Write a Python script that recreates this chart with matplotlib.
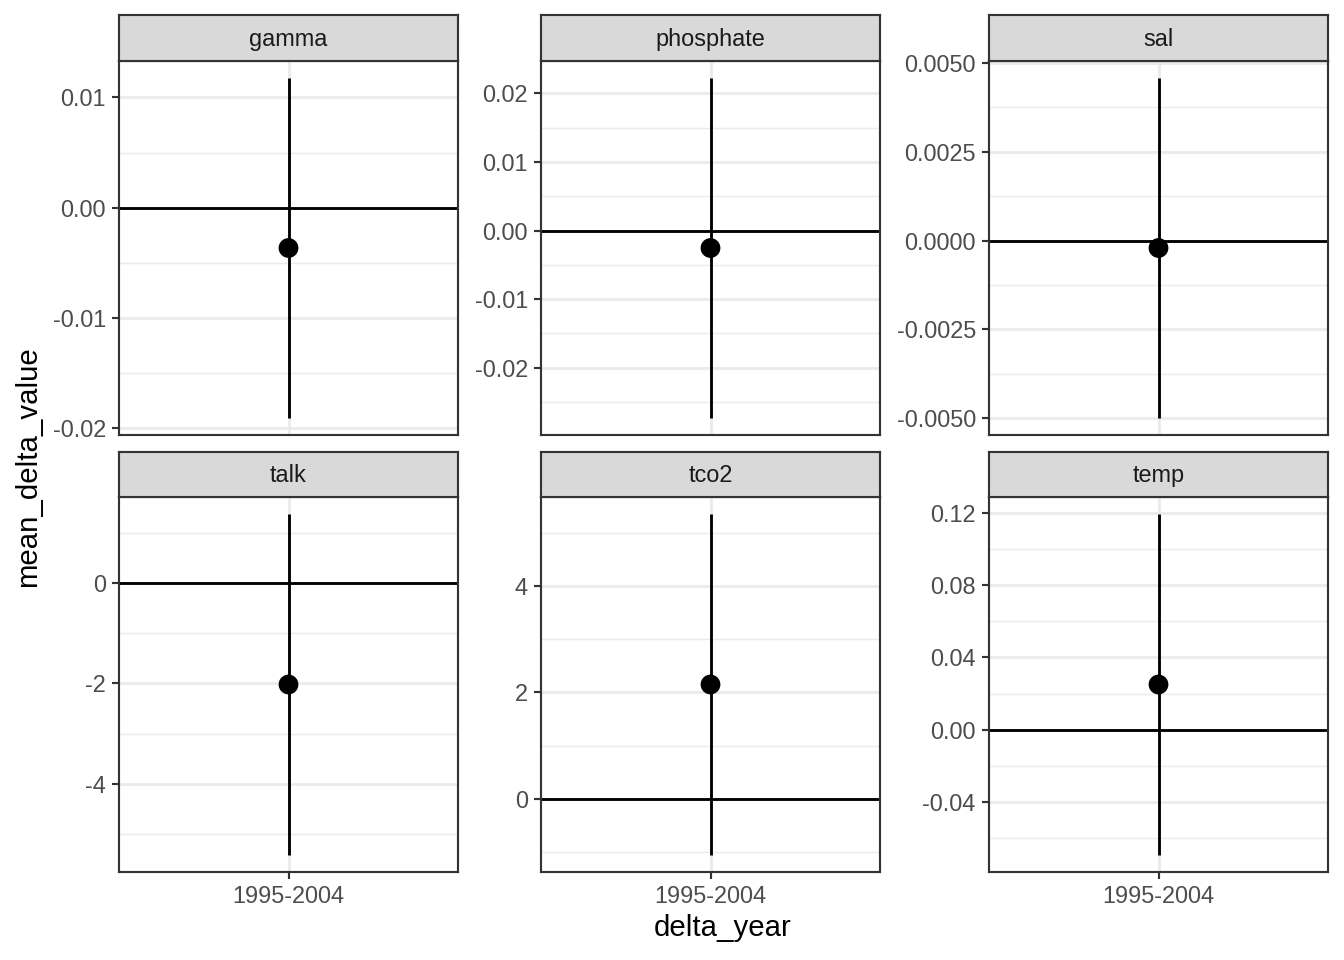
import matplotlib
matplotlib.use('Agg')
import matplotlib.pyplot as plt
import numpy as np

plt.rcParams['font.family'] = ['Liberation Sans', 'DejaVu Sans']

variables = ['gamma', 'phosphate', 'sal', 'talk', 'tco2', 'temp']
delta_year = ['1995-2004']
mean_delta_value = [-0.00365, -0.00255, -0.00021, -2.02, 2.15, 0.025]
sd_delta_value = [0.0154, 0.0248, 0.00479, 3.40, 3.21, 0.0944]
y_ticks = [
    [-0.02, -0.01, 0.00, 0.01],
    [-0.02, -0.01, 0.00, 0.01, 0.02],
    [-0.005, -0.0025, 0.0, 0.0025, 0.005],
    [-4, -2, 0],
    [0, 2, 4],
    [-0.04, 0.00, 0.04, 0.08, 0.12],
]
y_ticklabels = [
    ['-0.02', '-0.01', '0.00', '0.01'],
    ['-0.02', '-0.01', '0.00', '0.01', '0.02'],
    ['-0.0050', '-0.0025', '0.0000', '0.0025', '0.0050'],
    ['-4', '-2', '0'],
    ['0', '2', '4'],
    ['-0.04', '0.00', '0.04', '0.08', '0.12'],
]

W, H = 1344, 960
fig = plt.figure(figsize=(7, 5), dpi=192)

cols = [(119, 458), (541, 880), (989, 1328)]
rows_panel = [(61, 435), (497, 872)]
rows_strip = [(15, 61), (452, 497)]

border = '#333333'
grid_major = '#EBEBEB'
txt_col = '#4D4D4D'

for i, var in enumerate(variables):
    r, c = divmod(i, 3)
    x0, x1 = cols[c]
    py0, py1 = rows_panel[r]
    sy0, sy1 = rows_strip[r]
    ax = fig.add_axes([x0 / W, 1 - py1 / H, (x1 - x0) / W, (py1 - py0) / H])
    sax = fig.add_axes([x0 / W, 1 - sy1 / H, (x1 - x0) / W, (sy1 - sy0) / H])

    m = mean_delta_value[i]
    s = sd_delta_value[i]
    lo, hi = m - s, m + s
    dmin = min(lo, 0.0)
    dmax = max(hi, 0.0)
    ex = 0.05 * (dmax - dmin)
    ylim = (dmin - ex, dmax + ex)

    xs = np.arange(len(delta_year))
    ax.set_xlim(-0.6, len(delta_year) - 1 + 0.6)
    ax.set_ylim(*ylim)

    ticks = y_ticks[i]
    step = ticks[1] - ticks[0]
    minors = [(a + b) / 2 for a, b in zip(ticks[:-1], ticks[1:])]
    minors += [ticks[0] - step / 2, ticks[-1] + step / 2]
    minors = [v for v in minors if ylim[0] <= v <= ylim[1]]
    for v in minors:
        ax.axhline(v, color=grid_major, lw=0.55, zorder=0)
    for v in ticks:
        ax.axhline(v, color=grid_major, lw=1.07, zorder=0)
    for xv in xs:
        ax.axvline(xv, color=grid_major, lw=1.07, zorder=0)

    ax.axhline(0, color='black', lw=1.07, zorder=2)
    ax.vlines(xs, [lo], [hi], color='black', lw=1.07, zorder=3)
    ax.scatter(xs, [m], s=55, color='black', zorder=4, edgecolors='none')

    ax.set_yticks(ticks)
    ax.set_yticklabels(y_ticklabels[i])
    ax.set_xticks(xs)
    ax.tick_params(axis='both', labelsize=8.8, labelcolor=txt_col, color=border,
                   length=2.75, width=0.8, pad=2.2)
    if r == 1:
        ax.set_xticklabels(delta_year)
    else:
        ax.set_xticklabels([])
        ax.tick_params(axis='x', length=0)
    for sp in ax.spines.values():
        sp.set_color(border)
        sp.set_linewidth(0.8)

    sax.set_facecolor('#D9D9D9')
    sax.set_xticks([])
    sax.set_yticks([])
    for sp in sax.spines.values():
        sp.set_color(border)
        sp.set_linewidth(0.8)
    sax.text(0.5, 0.47, var, ha='center', va='center', fontsize=8.8,
             color='#1A1A1A', transform=sax.transAxes)

fig.text(723 / W, 1 - 928 / H, 'delta_year', ha='center', va='center', fontsize=11)
fig.text(28 / W, 1 - 467 / H, 'mean_delta_value', ha='center', va='center',
         rotation=90, fontsize=11)

fig.savefig('out.png', dpi=192)
